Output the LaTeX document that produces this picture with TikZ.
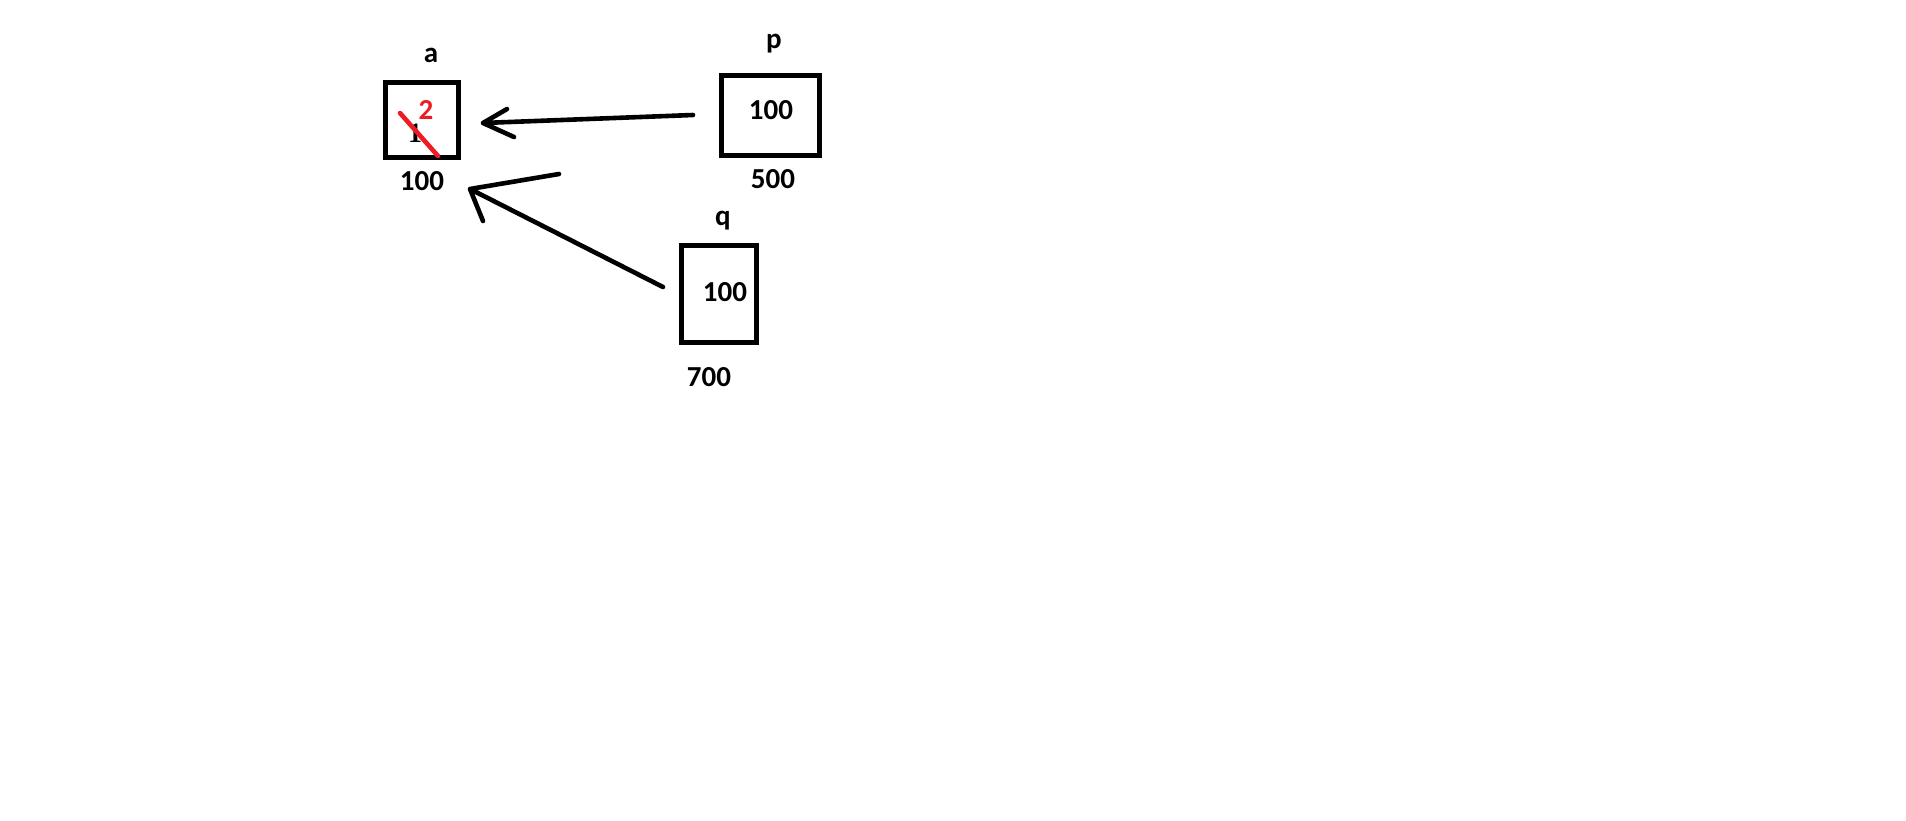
\documentclass[tikz,border=0pt]{standalone}
\usepackage{fontspec}
\setmainfont{Carlito}
\newfontfamily\oldserif{Liberation Serif}
\definecolor{paintred}{RGB}{237,28,36}
\tikzset{
  box/.style={draw, line width=4.6pt, inner sep=0pt},
  txt/.style={font=\fontsize{29}{34}\selectfont\bfseries, inner sep=0pt},
  stroke/.style={line width=4.6pt, line cap=round, line join=round}
}

\begin{document}
\begin{tikzpicture}[x=1pt,y=-1pt]
    \useasboundingbox (0,0) rectangle (1906,820);
    % boxes
    \node[box, minimum width=73pt, minimum height=75pt] (boxA) at (422,120) {};
    \node[box, minimum width=98pt, minimum height=80pt] (boxP) at (770.5,115.5) {};
    \node[box, minimum width=75pt, minimum height=97pt] (boxQ) at (719,294) {};
    % names and addresses
    \node[txt, anchor=base] (nameA) at (431,62) {a};
    \node[txt, anchor=base] (nameP) at (774,48) {p};
    \node[txt, anchor=base] (nameQ) at (723,225) {q};
    \node[txt] (addrA) at (422,181) {100};
    \node[txt] (addrP) at (773,179) {500};
    \node[txt] (addrQ) at (709,377) {700};
    % values
    \node[txt] (valP) at (771,110) {100};
    \node[txt] (valQ) at (725,292) {100};
    \node[txt, font=\fontsize{28}{32}\selectfont\oldserif\bfseries] (oldA) at (415,133) {1};
    \draw[stroke, paintred] (400,113) -- (438,156);
    \node[txt, text=paintred] (newA) at (426,110) {2};
    % pointers
    \coordinate (tailP) at (693,115);
    \coordinate (tipP) at (483,123);
    \coordinate (wingPa) at (507,109);
    \coordinate (wingPb) at (514,137);
    \draw[stroke] (tailP) -- (tipP) (wingPa) -- (tipP) -- (wingPb);
    \coordinate (tailQ) at (663,287);
    \coordinate (tipQ) at (470,189);
    \coordinate (wingQa) at (559,174);
    \coordinate (wingQb) at (483,221);
    \draw[stroke] (tailQ) -- (tipQ) (wingQa) -- (tipQ) -- (wingQb);
\end{tikzpicture}
\end{document}
